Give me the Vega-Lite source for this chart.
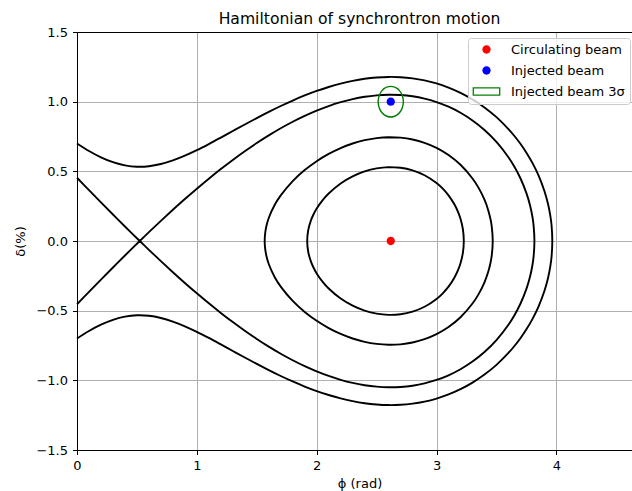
{
  "$schema": "https://vega.github.io/schema/vega-lite/v6.json",
  "width": 555,
  "height": 418,
  "autosize": {"type": "none"},
  "padding": {"left": 77, "top": 32, "right": 0, "bottom": 41},
  "title": {"text": "Hamiltonian of synchrontron motion", "fontSize": 15.6, "fontWeight": "normal", "font": "DejaVu Sans", "color": "#000", "frame": "group", "anchor": "middle", "dx": 5, "dy": 24, "offset": 10, "baseline": "alphabetic"},
  "config": {
    "font": "DejaVu Sans",
    "view": {"stroke": null},
    "axis": {"labelFont": "DejaVu Sans", "labelFontSize": 13, "labelColor": "#000", "titleFont": "DejaVu Sans", "titleFontSize": 13, "titleFontWeight": "normal", "titleColor": "#000", "domainColor": "#000", "domainWidth": 1, "tickColor": "#000", "tickWidth": 1, "tickSize": 4.5, "gridColor": "#b0b0b0", "gridWidth": 1, "labelPadding": 5, "labelFlush": false}
  },
  "datasets": {
    "curves": [
      {"c":"outer","o":1,"x":0,"y":0.6999},{"c":"outer","o":2,"x":0.1,"y":0.6461},{"c":"outer","o":3,"x":0.2,"y":0.6008},{"c":"outer","o":4,"x":0.3,"y":0.566},{"c":"outer","o":5,"x":0.4,"y":0.5431},{"c":"outer","o":6,"x":0.5,"y":0.5334},{"c":"outer","o":7,"x":0.6,"y":0.5368},{"c":"outer","o":8,"x":0.7,"y":0.5523},{"c":"outer","o":9,"x":0.8,"y":0.5781},{"c":"outer","o":10,"x":0.9,"y":0.6121},{"c":"outer","o":11,"x":1.0,"y":0.6519},{"c":"outer","o":12,"x":1.1,"y":0.6958},{"c":"outer","o":13,"x":1.2,"y":0.742},{"c":"outer","o":14,"x":1.3,"y":0.7892},{"c":"outer","o":15,"x":1.4,"y":0.8362},{"c":"outer","o":16,"x":1.5,"y":0.8823},{"c":"outer","o":17,"x":1.6,"y":0.9268},{"c":"outer","o":18,"x":1.7,"y":0.969},{"c":"outer","o":19,"x":1.8,"y":1.0083},{"c":"outer","o":20,"x":1.9,"y":1.0445},{"c":"outer","o":21,"x":2.0,"y":1.077},{"c":"outer","o":22,"x":2.1,"y":1.1055},{"c":"outer","o":23,"x":2.2,"y":1.1298},{"c":"outer","o":24,"x":2.3,"y":1.1494},{"c":"outer","o":25,"x":2.4,"y":1.1641},{"c":"outer","o":26,"x":2.5,"y":1.1735},{"c":"outer","o":27,"x":2.6,"y":1.1775},{"c":"outer","o":28,"x":2.7,"y":1.1756},{"c":"outer","o":29,"x":2.8,"y":1.1674},{"c":"outer","o":30,"x":2.9,"y":1.1527},{"c":"outer","o":31,"x":3.0,"y":1.1308},{"c":"outer","o":32,"x":3.1,"y":1.1014},{"c":"outer","o":33,"x":3.2,"y":1.0636},{"c":"outer","o":34,"x":3.3,"y":1.0165},{"c":"outer","o":35,"x":3.4,"y":0.9589},{"c":"outer","o":36,"x":3.5,"y":0.8889},{"c":"outer","o":37,"x":3.6,"y":0.8036},{"c":"outer","o":38,"x":3.65,"y":0.7537},{"c":"outer","o":39,"x":3.7,"y":0.6978},{"c":"outer","o":40,"x":3.75,"y":0.6342},{"c":"outer","o":41,"x":3.8,"y":0.5607},{"c":"outer","o":42,"x":3.85,"y":0.4726},{"c":"outer","o":43,"x":3.9,"y":0.3594},{"c":"outer","o":44,"x":3.93,"y":0.2671},{"c":"outer","o":45,"x":3.95,"y":0.179},{"c":"outer","o":46,"x":3.96,"y":0.1113},{"c":"outer","o":47,"x":3.966,"y":0},
      {"c":"outer","o":48,"x":3.96,"y":-0.1113},{"c":"outer","o":49,"x":3.95,"y":-0.179},{"c":"outer","o":50,"x":3.93,"y":-0.2671},{"c":"outer","o":51,"x":3.9,"y":-0.3594},{"c":"outer","o":52,"x":3.85,"y":-0.4726},{"c":"outer","o":53,"x":3.8,"y":-0.5607},{"c":"outer","o":54,"x":3.75,"y":-0.6342},{"c":"outer","o":55,"x":3.7,"y":-0.6978},{"c":"outer","o":56,"x":3.65,"y":-0.7537},{"c":"outer","o":57,"x":3.6,"y":-0.8036},{"c":"outer","o":58,"x":3.5,"y":-0.8889},{"c":"outer","o":59,"x":3.4,"y":-0.9589},{"c":"outer","o":60,"x":3.3,"y":-1.0165},{"c":"outer","o":61,"x":3.2,"y":-1.0636},{"c":"outer","o":62,"x":3.1,"y":-1.1014},{"c":"outer","o":63,"x":3.0,"y":-1.1308},{"c":"outer","o":64,"x":2.9,"y":-1.1527},{"c":"outer","o":65,"x":2.8,"y":-1.1674},{"c":"outer","o":66,"x":2.7,"y":-1.1756},{"c":"outer","o":67,"x":2.6,"y":-1.1775},{"c":"outer","o":68,"x":2.5,"y":-1.1735},{"c":"outer","o":69,"x":2.4,"y":-1.1641},{"c":"outer","o":70,"x":2.3,"y":-1.1494},{"c":"outer","o":71,"x":2.2,"y":-1.1298},{"c":"outer","o":72,"x":2.1,"y":-1.1055},{"c":"outer","o":73,"x":2.0,"y":-1.077},{"c":"outer","o":74,"x":1.9,"y":-1.0445},{"c":"outer","o":75,"x":1.8,"y":-1.0083},{"c":"outer","o":76,"x":1.7,"y":-0.969},{"c":"outer","o":77,"x":1.6,"y":-0.9268},{"c":"outer","o":78,"x":1.5,"y":-0.8823},{"c":"outer","o":79,"x":1.4,"y":-0.8362},{"c":"outer","o":80,"x":1.3,"y":-0.7892},{"c":"outer","o":81,"x":1.2,"y":-0.742},{"c":"outer","o":82,"x":1.1,"y":-0.6958},{"c":"outer","o":83,"x":1.0,"y":-0.6519},{"c":"outer","o":84,"x":0.9,"y":-0.6121},{"c":"outer","o":85,"x":0.8,"y":-0.5781},{"c":"outer","o":86,"x":0.7,"y":-0.5523},{"c":"outer","o":87,"x":0.6,"y":-0.5368},{"c":"outer","o":88,"x":0.5,"y":-0.5334},{"c":"outer","o":89,"x":0.4,"y":-0.5431},{"c":"outer","o":90,"x":0.3,"y":-0.566},{"c":"outer","o":91,"x":0.2,"y":-0.6008},{"c":"outer","o":92,"x":0.1,"y":-0.6461},{"c":"outer","o":93,"x":0,"y":-0.6999},
      {"c":"sep","o":101,"x":0,"y":0.4537},{"c":"sep","o":102,"x":0.1,"y":0.3652},{"c":"sep","o":103,"x":0.2,"y":0.2773},{"c":"sep","o":104,"x":0.3,"y":0.1903},{"c":"sep","o":105,"x":0.4,"y":0.1044},{"c":"sep","o":106,"x":0.5236,"y":0},{"c":"sep","o":107,"x":0.6,"y":-0.0633},{"c":"sep","o":108,"x":0.7,"y":-0.1446},{"c":"sep","o":109,"x":0.8,"y":-0.2238},{"c":"sep","o":110,"x":0.9,"y":-0.3009},{"c":"sep","o":111,"x":1.0,"y":-0.3754},{"c":"sep","o":112,"x":1.1,"y":-0.4472},{"c":"sep","o":113,"x":1.2,"y":-0.5161},{"c":"sep","o":114,"x":1.3,"y":-0.5819},{"c":"sep","o":115,"x":1.4,"y":-0.6443},{"c":"sep","o":116,"x":1.5,"y":-0.7032},{"c":"sep","o":117,"x":1.6,"y":-0.7582},{"c":"sep","o":118,"x":1.7,"y":-0.8092},{"c":"sep","o":119,"x":1.8,"y":-0.8559},{"c":"sep","o":120,"x":1.9,"y":-0.8982},{"c":"sep","o":121,"x":2.0,"y":-0.9358},{"c":"sep","o":122,"x":2.1,"y":-0.9686},{"c":"sep","o":123,"x":2.2,"y":-0.9961},{"c":"sep","o":124,"x":2.3,"y":-1.0183},{"c":"sep","o":125,"x":2.4,"y":-1.0349},{"c":"sep","o":126,"x":2.5,"y":-1.0455},{"c":"sep","o":127,"x":2.6,"y":-1.05},{"c":"sep","o":128,"x":2.7,"y":-1.0478},{"c":"sep","o":129,"x":2.8,"y":-1.0387},{"c":"sep","o":130,"x":2.9,"y":-1.0221},{"c":"sep","o":131,"x":3.0,"y":-0.9973},{"c":"sep","o":132,"x":3.1,"y":-0.9638},{"c":"sep","o":133,"x":3.2,"y":-0.9204},{"c":"sep","o":134,"x":3.3,"y":-0.8655},{"c":"sep","o":135,"x":3.4,"y":-0.7971},{"c":"sep","o":136,"x":3.5,"y":-0.7113},{"c":"sep","o":137,"x":3.6,"y":-0.6013},{"c":"sep","o":138,"x":3.65,"y":-0.5328},{"c":"sep","o":139,"x":3.7,"y":-0.4503},{"c":"sep","o":140,"x":3.75,"y":-0.3436},{"c":"sep","o":141,"x":3.78,"y":-0.2568},{"c":"sep","o":142,"x":3.8,"y":-0.174},{"c":"sep","o":143,"x":3.81,"y":-0.1109},{"c":"sep","o":144,"x":3.8168,"y":0},
      {"c":"sep","o":145,"x":3.81,"y":0.1109},{"c":"sep","o":146,"x":3.8,"y":0.174},{"c":"sep","o":147,"x":3.78,"y":0.2568},{"c":"sep","o":148,"x":3.75,"y":0.3436},{"c":"sep","o":149,"x":3.7,"y":0.4503},{"c":"sep","o":150,"x":3.65,"y":0.5328},{"c":"sep","o":151,"x":3.6,"y":0.6013},{"c":"sep","o":152,"x":3.5,"y":0.7113},{"c":"sep","o":153,"x":3.4,"y":0.7971},{"c":"sep","o":154,"x":3.3,"y":0.8655},{"c":"sep","o":155,"x":3.2,"y":0.9204},{"c":"sep","o":156,"x":3.1,"y":0.9638},{"c":"sep","o":157,"x":3.0,"y":0.9973},{"c":"sep","o":158,"x":2.9,"y":1.0221},{"c":"sep","o":159,"x":2.8,"y":1.0387},{"c":"sep","o":160,"x":2.7,"y":1.0478},{"c":"sep","o":161,"x":2.6,"y":1.05},{"c":"sep","o":162,"x":2.5,"y":1.0455},{"c":"sep","o":163,"x":2.4,"y":1.0349},{"c":"sep","o":164,"x":2.3,"y":1.0183},{"c":"sep","o":165,"x":2.2,"y":0.9961},{"c":"sep","o":166,"x":2.1,"y":0.9686},{"c":"sep","o":167,"x":2.0,"y":0.9358},{"c":"sep","o":168,"x":1.9,"y":0.8982},{"c":"sep","o":169,"x":1.8,"y":0.8559},{"c":"sep","o":170,"x":1.7,"y":0.8092},{"c":"sep","o":171,"x":1.6,"y":0.7582},{"c":"sep","o":172,"x":1.5,"y":0.7032},{"c":"sep","o":173,"x":1.4,"y":0.6443},{"c":"sep","o":174,"x":1.3,"y":0.5819},{"c":"sep","o":175,"x":1.2,"y":0.5161},{"c":"sep","o":176,"x":1.1,"y":0.4472},{"c":"sep","o":177,"x":1.0,"y":0.3754},{"c":"sep","o":178,"x":0.9,"y":0.3009},{"c":"sep","o":179,"x":0.8,"y":0.2238},{"c":"sep","o":180,"x":0.7,"y":0.1446},{"c":"sep","o":181,"x":0.6,"y":0.0633},{"c":"sep","o":182,"x":0.5236,"y":0},{"c":"sep","o":183,"x":0.4,"y":-0.1044},{"c":"sep","o":184,"x":0.3,"y":-0.1903},{"c":"sep","o":185,"x":0.2,"y":-0.2773},{"c":"sep","o":186,"x":0.1,"y":-0.3652},{"c":"sep","o":187,"x":0,"y":-0.4537},
      {"c":"c3","o":201,"x":2.6,"y":0.7449},{"c":"c3","o":202,"x":2.7,"y":0.7418},{"c":"c3","o":203,"x":2.8,"y":0.7288},{"c":"c3","o":204,"x":2.9,"y":0.7049},{"c":"c3","o":205,"x":3.0,"y":0.6686},{"c":"c3","o":206,"x":3.1,"y":0.6175},{"c":"c3","o":207,"x":3.2,"y":0.5472},{"c":"c3","o":208,"x":3.3,"y":0.4489},{"c":"c3","o":209,"x":3.35,"y":0.383},{"c":"c3","o":210,"x":3.4,"y":0.2962},{"c":"c3","o":211,"x":3.43,"y":0.2249},{"c":"c3","o":212,"x":3.45,"y":0.158},{"c":"c3","o":213,"x":3.46,"y":0.1091},{"c":"c3","o":214,"x":3.469,"y":0},{"c":"c3","o":215,"x":3.46,"y":-0.1091},{"c":"c3","o":216,"x":3.45,"y":-0.158},{"c":"c3","o":217,"x":3.43,"y":-0.2249},{"c":"c3","o":218,"x":3.4,"y":-0.2962},{"c":"c3","o":219,"x":3.35,"y":-0.383},{"c":"c3","o":220,"x":3.3,"y":-0.4489},{"c":"c3","o":221,"x":3.2,"y":-0.5472},{"c":"c3","o":222,"x":3.1,"y":-0.6175},{"c":"c3","o":223,"x":3.0,"y":-0.6686},{"c":"c3","o":224,"x":2.9,"y":-0.7049},{"c":"c3","o":225,"x":2.8,"y":-0.7288},{"c":"c3","o":226,"x":2.7,"y":-0.7418},{"c":"c3","o":227,"x":2.6,"y":-0.7449},{"c":"c3","o":228,"x":2.5,"y":-0.7386},{"c":"c3","o":229,"x":2.4,"y":-0.7235},{"c":"c3","o":230,"x":2.3,"y":-0.6996},{"c":"c3","o":231,"x":2.2,"y":-0.6669},{"c":"c3","o":232,"x":2.1,"y":-0.6249},{"c":"c3","o":233,"x":2.0,"y":-0.5729},{"c":"c3","o":234,"x":1.9,"y":-0.5091},{"c":"c3","o":235,"x":1.8,"y":-0.4301},{"c":"c3","o":236,"x":1.7,"y":-0.3273},{"c":"c3","o":237,"x":1.65,"y":-0.2598},{"c":"c3","o":238,"x":1.6,"y":-0.1649},{"c":"c3","o":239,"x":1.58,"y":-0.1054},{"c":"c3","o":240,"x":1.57,"y":-0.0553},{"c":"c3","o":241,"x":1.566,"y":0},{"c":"c3","o":242,"x":1.57,"y":0.0553},{"c":"c3","o":243,"x":1.58,"y":0.1054},{"c":"c3","o":244,"x":1.6,"y":0.1649},{"c":"c3","o":245,"x":1.65,"y":0.2598},{"c":"c3","o":246,"x":1.7,"y":0.3273},{"c":"c3","o":247,"x":1.8,"y":0.4301},{"c":"c3","o":248,"x":1.9,"y":0.5091},{"c":"c3","o":249,"x":2.0,"y":0.5729},{"c":"c3","o":250,"x":2.1,"y":0.6249},{"c":"c3","o":251,"x":2.2,"y":0.6669},{"c":"c3","o":252,"x":2.3,"y":0.6996},{"c":"c3","o":253,"x":2.4,"y":0.7235},{"c":"c3","o":254,"x":2.5,"y":0.7386},{"c":"c3","o":255,"x":2.6,"y":0.7449},{"c":"c3","o":256,"x":2.7,"y":0.7418},
      {"c":"c4","o":301,"x":2.6,"y":0.5299},{"c":"c4","o":302,"x":2.7,"y":0.5256},{"c":"c4","o":303,"x":2.8,"y":0.5071},{"c":"c4","o":304,"x":2.9,"y":0.4721},{"c":"c4","o":305,"x":3.0,"y":0.416},{"c":"c4","o":306,"x":3.05,"y":0.3771},{"c":"c4","o":307,"x":3.1,"y":0.3276},{"c":"c4","o":308,"x":3.15,"y":0.2615},{"c":"c4","o":309,"x":3.18,"y":0.2076},{"c":"c4","o":310,"x":3.2,"y":0.1594},{"c":"c4","o":311,"x":3.22,"y":0.0844},{"c":"c4","o":312,"x":3.2275,"y":0},{"c":"c4","o":313,"x":3.22,"y":-0.0844},{"c":"c4","o":314,"x":3.2,"y":-0.1594},{"c":"c4","o":315,"x":3.18,"y":-0.2076},{"c":"c4","o":316,"x":3.15,"y":-0.2615},{"c":"c4","o":317,"x":3.1,"y":-0.3276},{"c":"c4","o":318,"x":3.05,"y":-0.3771},{"c":"c4","o":319,"x":3.0,"y":-0.416},{"c":"c4","o":320,"x":2.9,"y":-0.4721},{"c":"c4","o":321,"x":2.8,"y":-0.5071},{"c":"c4","o":322,"x":2.7,"y":-0.5256},{"c":"c4","o":323,"x":2.6,"y":-0.5299},{"c":"c4","o":324,"x":2.5,"y":-0.5211},{"c":"c4","o":325,"x":2.4,"y":-0.4994},{"c":"c4","o":326,"x":2.3,"y":-0.4641},{"c":"c4","o":327,"x":2.2,"y":-0.4131},{"c":"c4","o":328,"x":2.1,"y":-0.3413},{"c":"c4","o":329,"x":2.05,"y":-0.2937},{"c":"c4","o":330,"x":2.0,"y":-0.2328},{"c":"c4","o":331,"x":1.97,"y":-0.1847},{"c":"c4","o":332,"x":1.95,"y":-0.1429},{"c":"c4","o":333,"x":1.93,"y":-0.081},{"c":"c4","o":334,"x":1.9208,"y":0},{"c":"c4","o":335,"x":1.93,"y":0.081},{"c":"c4","o":336,"x":1.95,"y":0.1429},{"c":"c4","o":337,"x":1.97,"y":0.1847},{"c":"c4","o":338,"x":2.0,"y":0.2328},{"c":"c4","o":339,"x":2.05,"y":0.2937},{"c":"c4","o":340,"x":2.1,"y":0.3413},{"c":"c4","o":341,"x":2.2,"y":0.4131},{"c":"c4","o":342,"x":2.3,"y":0.4641},{"c":"c4","o":343,"x":2.4,"y":0.4994},{"c":"c4","o":344,"x":2.5,"y":0.5211},{"c":"c4","o":345,"x":2.6,"y":0.5299},{"c":"c4","o":346,"x":2.7,"y":0.5256}
    ],
    "ellipse": [
      {"o":0,"x":2.723,"y":1.0},{"o":1,"x":2.719,"y":1.0285},{"o":2,"x":2.709,"y":1.055},{"o":3,"x":2.692,"y":1.0778},{"o":4,"x":2.671,"y":1.0953},{"o":5,"x":2.645,"y":1.1062},{"o":6,"x":2.618,"y":1.11},{"o":7,"x":2.591,"y":1.1062},{"o":8,"x":2.565,"y":1.0953},{"o":9,"x":2.544,"y":1.0778},{"o":10,"x":2.527,"y":1.055},{"o":11,"x":2.517,"y":1.0285},{"o":12,"x":2.513,"y":1.0},{"o":13,"x":2.517,"y":0.9715},{"o":14,"x":2.527,"y":0.945},{"o":15,"x":2.544,"y":0.9222},{"o":16,"x":2.565,"y":0.9047},{"o":17,"x":2.591,"y":0.8938},{"o":18,"x":2.618,"y":0.89},{"o":19,"x":2.645,"y":0.8938},{"o":20,"x":2.671,"y":0.9047},{"o":21,"x":2.692,"y":0.9222},{"o":22,"x":2.709,"y":0.945},{"o":23,"x":2.719,"y":0.9715}
    ],
    "beams": [
      {"s":"Circulating beam","x":2.618,"y":0},
      {"s":"Injected beam","x":2.618,"y":1.0}
    ]
  },
  "layer": [
    {
      "data": {"name": "curves"},
      "mark": {"type": "line", "color": "#000", "strokeWidth": 1.9, "interpolate": "catmull-rom"},
      "encoding": {
        "x": {"field": "x", "type": "quantitative", "scale": {"domain": [0, 4.631], "nice": false, "zero": false},
              "axis": {"orient": "bottom", "values": [0, 1, 2, 3, 4], "format": "d", "title": "ϕ (rad)", "titleX": 282.5, "titleY": 37, "titleBaseline": "alphabetic", "titleAlign": "center", "grid": true, "labelFlush": false}},
        "y": {"field": "y", "type": "quantitative", "scale": {"domain": [-1.5, 1.5], "nice": false},
              "axis": {"values": [-1.5, -1, -0.5, 0, 0.5, 1, 1.5], "format": ".1f", "title": "δ(%)", "titleX": -53, "titleY": 209, "titleBaseline": "alphabetic", "titleAngle": 270, "titleAlign": "center", "grid": true, "labelFlush": false}},
        "detail": {"field": "c", "type": "nominal"},
        "order": {"field": "o", "type": "quantitative"}
      }
    },
    {
      "data": {"name": "ellipse"},
      "mark": {"type": "line", "color": "#008000", "strokeWidth": 1.4, "interpolate": "cardinal-closed"},
      "encoding": {
        "x": {"field": "x", "type": "quantitative", "axis": {"orient": "top", "labels": false, "ticks": false, "grid": false, "domain": true, "title": null}},
        "y": {"field": "y", "type": "quantitative"},
        "order": {"field": "o", "type": "quantitative"}
      }
    },
    {
      "data": {"name": "beams"},
      "mark": {"type": "point", "filled": true, "size": 100, "opacity": 1},
      "encoding": {
        "x": {"field": "x", "type": "quantitative", "axis": null},
        "y": {"field": "y", "type": "quantitative"},
        "color": {"field": "s", "type": "nominal",
                  "scale": {"domain": ["Circulating beam", "Injected beam", "Injected beam 3σ"], "range": ["#ff0000", "#0000ff", "#008000"]},
                  "legend": {"title": null, "orient": "none", "legendX": 391, "legendY": 6, "padding": 5, "symbolOffset": 7, "labelOffset": 18, "rowPadding": 7, "symbolSize": 100,
                             "fillColor": "rgba(255,255,255,0.8)", "strokeColor": "#cccccc", "cornerRadius": 3,
                             "labelFont": "DejaVu Sans", "labelFontSize": 13, "labelColor": "#000", "labelLimit": 400,
                             "labelExpr": "datum.label + '\u00a0\u00a0\u00a0'"}},
        "shape": {"field": "s", "type": "nominal",
                  "scale": {"domain": ["Circulating beam", "Injected beam", "Injected beam 3σ"], "range": ["M-0.83,0A0.83,0.83,0,1,0,0.83,0A0.83,0.83,0,1,0,-0.83,0Z", "M-0.83,0A0.83,0.83,0,1,0,0.83,0A0.83,0.83,0,1,0,-0.83,0Z", "M-2.77,-0.87H2.77V0.87H-2.77ZM-2.51,-0.61V0.61H2.51V-0.61Z"]},
                  "legend": {"title": null, "orient": "none", "legendX": 391, "legendY": 6, "padding": 5, "symbolOffset": 7, "labelOffset": 18, "rowPadding": 7, "symbolSize": 100,
                             "fillColor": "rgba(255,255,255,0.8)", "strokeColor": "#cccccc", "cornerRadius": 3,
                             "labelFont": "DejaVu Sans", "labelFontSize": 13, "labelColor": "#000", "labelLimit": 400,
                             "labelExpr": "datum.label + '\u00a0\u00a0\u00a0'"}}
      }
    }
  ],
  "resolve": {"axis": {"x": "independent"}}
}
